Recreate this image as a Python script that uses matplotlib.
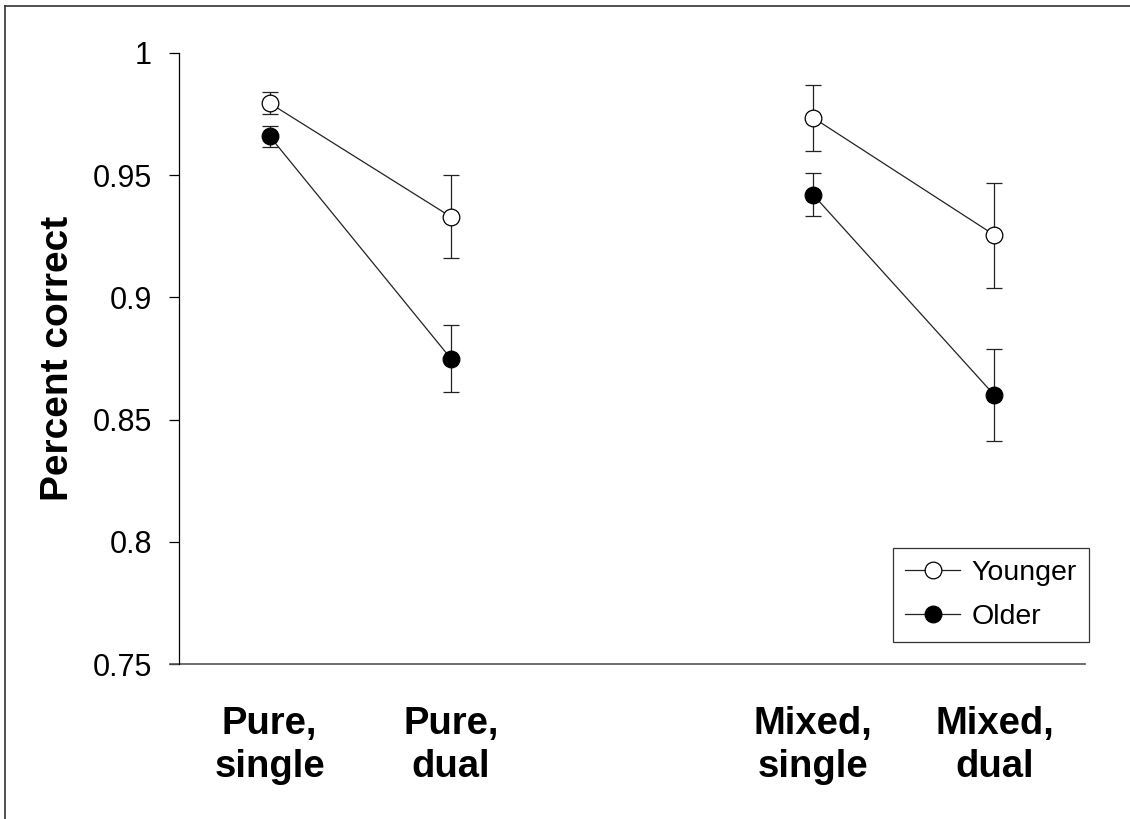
import matplotlib
matplotlib.use("Agg")
import matplotlib.pyplot as plt
from matplotlib.lines import Line2D

plt.rcParams['font.family'] = ['Liberation Sans', 'DejaVu Sans']

categories = ["Pure,\nsingle", "Pure,\ndual", "Mixed,\nsingle", "Mixed,\ndual"]
positions = [1, 2, 4, 5]
younger = [0.9795, 0.933, 0.9735, 0.9255]
younger_err = [0.0045, 0.017, 0.0135, 0.0215]
older = [0.966, 0.875, 0.942, 0.860]
older_err = [0.0043, 0.0137, 0.0088, 0.0188]
yticks = [0.75, 0.8, 0.85, 0.9, 0.95, 1.0]
yticklabels = ["0.75", "0.8", "0.85", "0.9", "0.95", "1"]

fig = plt.figure(figsize=(11.3, 8.19), dpi=100)
ax = fig.add_axes([179/1130, 1-664/819, (1085-179)/1130, (664-53)/819])

lc = "#222222"
ms = 12
for vals, errs, face in [(younger, younger_err, "white"), (older, older_err, "black")]:
    for seg in (slice(0, 2), slice(2, 4)):
        ax.plot(positions[seg], vals[seg], color=lc, lw=0.9, zorder=2)
    ax.errorbar(positions, vals, yerr=errs, fmt="none", ecolor=lc, elinewidth=0.9,
                capsize=5.8, capthick=0.9, zorder=1)
    ax.plot(positions, vals, ls="none", marker="o", ms=ms, mfc=face, mec="black",
            mew=0.9, zorder=3)

ax.set_xlim(0.5, 5.5)
ax.set_ylim(0.75, 1.0)
ax.set_yticks(yticks)
ax.set_yticklabels(yticklabels, fontsize=22)
ax.set_xticks(positions)
ax.set_xticklabels(categories, fontsize=27.5, fontweight="bold", linespacing=1.25)
ax.tick_params(axis="x", length=0, pad=30)
ax.tick_params(axis="y", direction="out", length=7.5, width=0.9, pad=12, colors="black")
for s in ["top", "right"]:
    ax.spines[s].set_visible(False)
ax.spines["left"].set_linewidth(0.9)
ax.spines["bottom"].set_visible(False)
# bottom axis line extending slightly left of y axis
ax.plot([-9/906, 1.0], [0, 0], transform=ax.transAxes, color="#555555", lw=1.2, clip_on=False)

ax.set_ylabel("Percent correct", fontsize=28, fontweight="bold", labelpad=12)

handles = [
    Line2D([0], [0], color=lc, lw=0.9, marker="o", ms=ms, mfc="white", mec="black", mew=0.9),
    Line2D([0], [0], color=lc, lw=0.9, marker="o", ms=ms, mfc="black", mec="black", mew=0.9),
]
leg = fig.legend(handles, ["Younger", "Older"], loc="lower right",
                 bbox_to_anchor=(1089/1130, 1-642/819), fontsize=20.5, frameon=True,
                 fancybox=False, edgecolor="black", handlelength=1.95, handletextpad=0.4,
                 borderpad=0.42, labelspacing=0.62, borderaxespad=0)
leg.get_frame().set_linewidth(0.9)

# figure border (top and left visible)
fig.add_artist(Line2D([5/1130, 5/1130], [0, 1-6/819], transform=fig.transFigure, color="#333333", lw=1.2))
fig.add_artist(Line2D([5/1130, 1], [1-6/819, 1-6/819], transform=fig.transFigure, color="#333333", lw=1.2))

fig.savefig("out.png", dpi=100)
